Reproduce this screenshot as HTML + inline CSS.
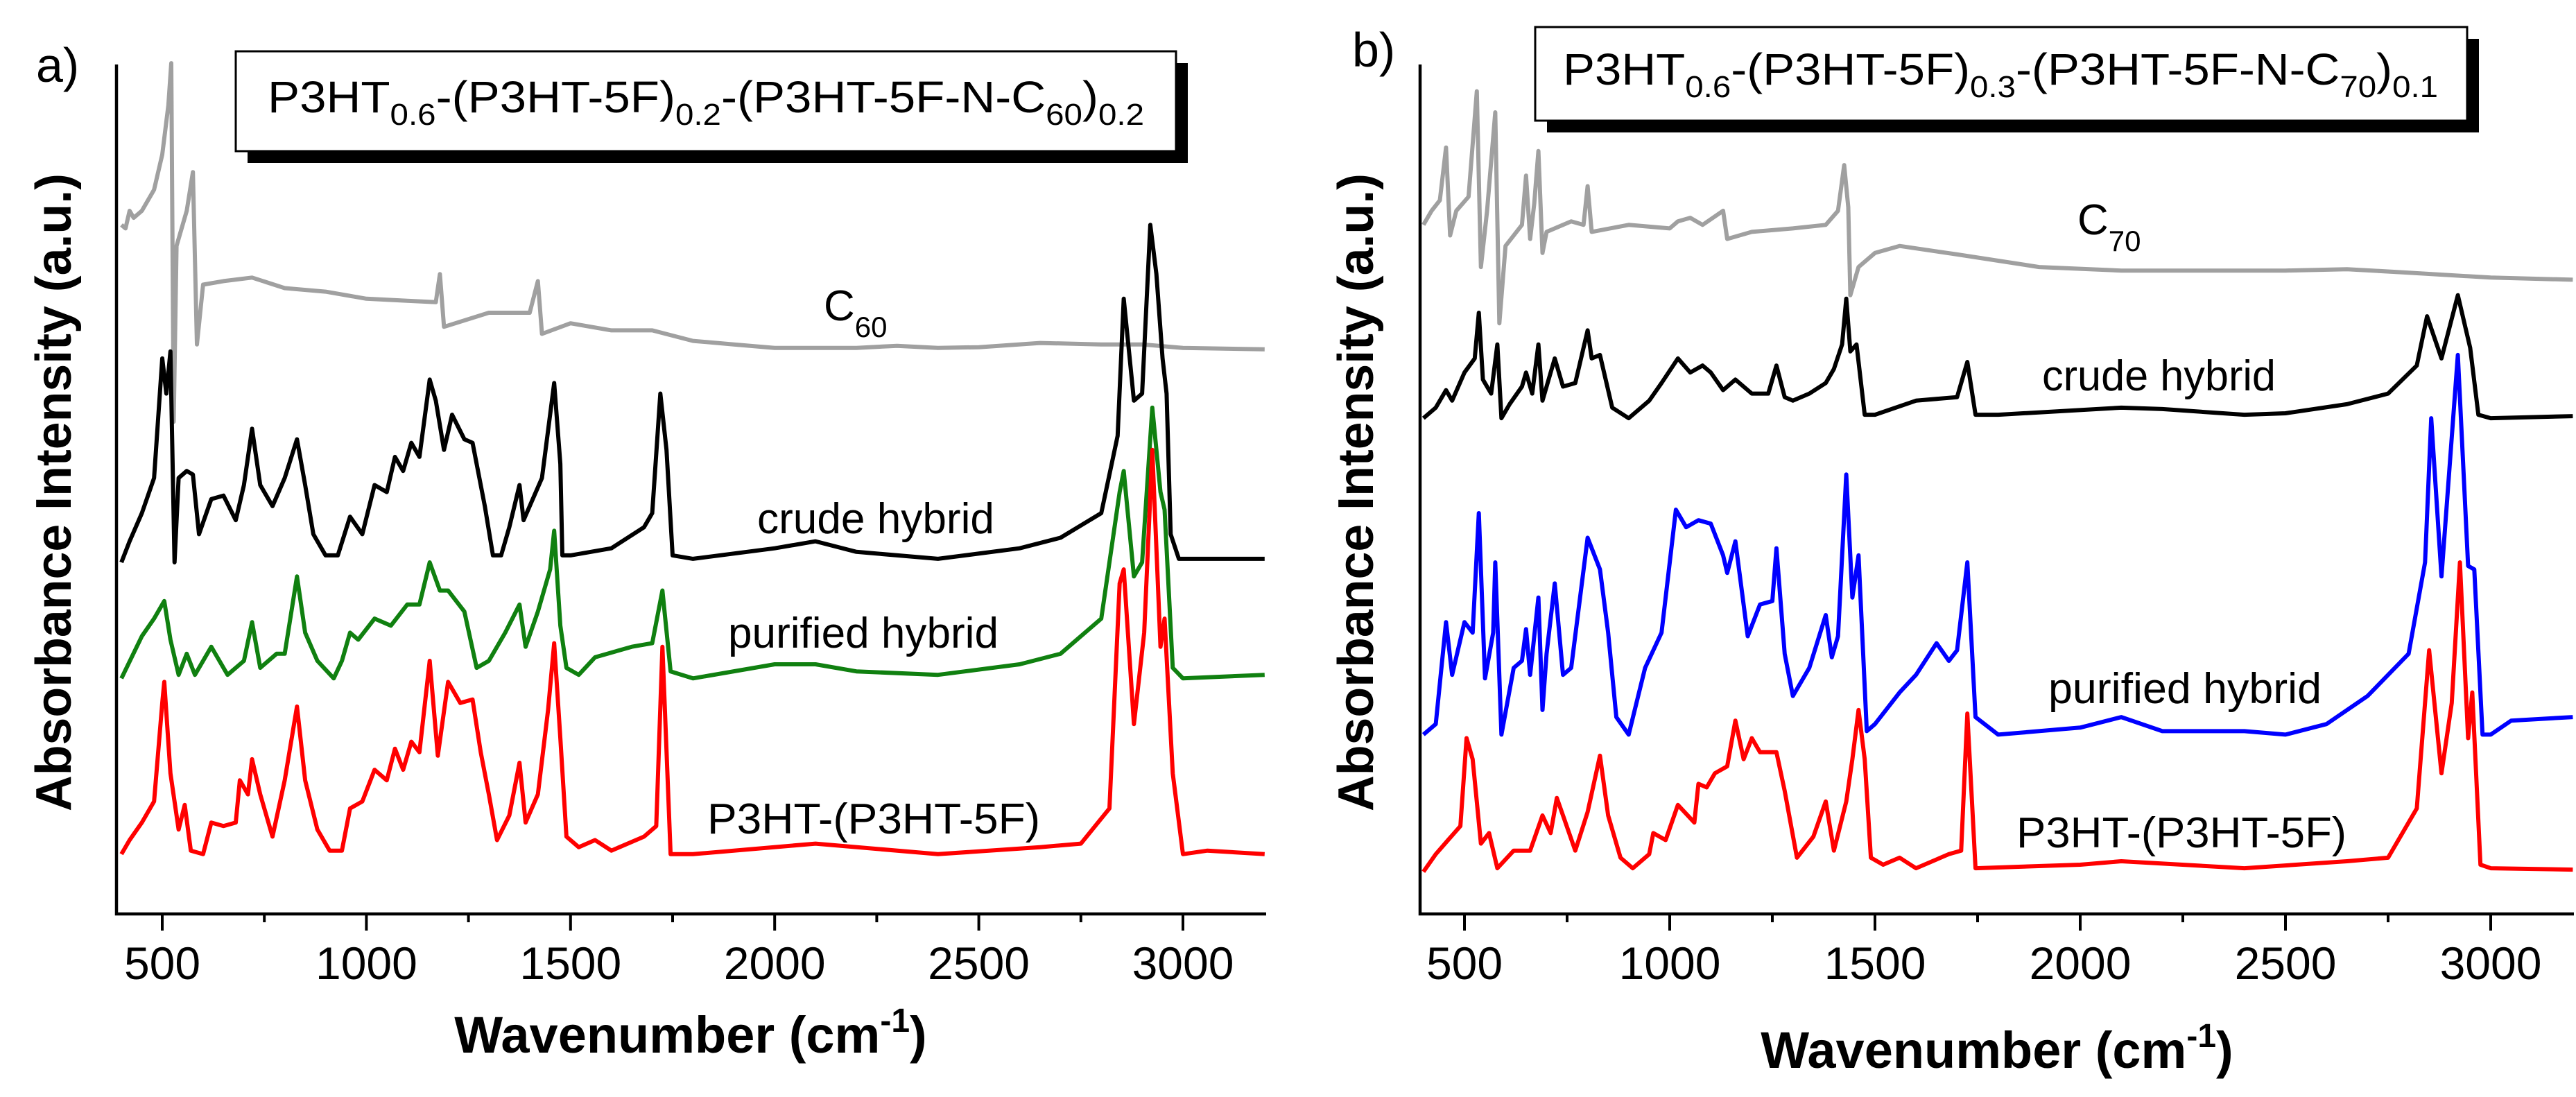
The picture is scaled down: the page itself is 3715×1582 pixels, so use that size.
<!DOCTYPE html>
<html><head><meta charset="utf-8"><style>
html,body{margin:0;padding:0;background:#fff;}
svg{display:block;font-family:"Liberation Sans",Arial,sans-serif;}
</style></head><body>
<svg id="chart" width="3715" height="1582" viewBox="0 0 3715 1582" xmlns="http://www.w3.org/2000/svg">
<rect width="3715" height="1582" fill="#fff"/>
</svg>
<script>
// ---- data (wavenumber, absorbance a.u.) ----
const ticksMajor = [500, 1000, 1500, 2000, 2500, 3000];
const ticksMinor = [750, 1250, 1750, 2250, 2750];
const tickLabels = ["500", "1000", "1500", "2000", "2500", "3000"];

const aC60 = [[400,980],[410,975],[420,1000],[430,990],[450,1000],[480,1030],[500,1080],[515,1150],[522,1210],[528,700],[535,950],[560,1000],[575,1055],[585,810],[600,895],[650,900],[720,905],[800,890],[900,885],[1000,875],[1100,872],[1170,870],[1180,910],[1190,835],[1300,855],[1400,855],[1420,900],[1430,825],[1500,840],[1550,835],[1600,830],[1700,830],[1800,815],[1900,810],[2000,805],[2100,805],[2200,805],[2300,808],[2400,805],[2500,806],[2650,812],[2800,810],[2900,810],[3000,805],[3200,803]];
const aCrude = [[400,500],[420,530],[450,570],[480,620],[500,790],[510,740],[520,800],[530,500],[540,620],[560,630],[575,625],[590,540],[620,590],[650,595],[680,560],[700,610],[720,690],[740,610],[770,580],[800,620],[830,675],[850,610],[870,540],[900,510],[930,510],[960,565],[990,540],[1020,610],[1050,600],[1070,650],[1090,630],[1110,670],[1130,650],[1155,760],[1170,730],[1190,660],[1210,710],[1240,675],[1260,670],[1290,580],[1310,510],[1330,510],[1350,550],[1375,610],[1385,560],[1400,580],[1430,620],[1460,755],[1475,640],[1480,510],[1500,510],[1600,520],[1680,550],[1700,570],[1720,740],[1735,660],[1750,510],[1800,505],[2000,520],[2100,530],[2200,515],[2400,505],[2600,520],[2700,535],[2800,570],[2840,680],[2855,875],[2880,730],[2900,740],[2920,980],[2935,910],[2950,790],[2960,740],[2970,540],[2990,505],[3200,505]];
const aPurified = [[400,335],[450,395],[480,420],[505,445],[520,390],[540,340],[560,370],[580,340],[620,380],[660,340],[700,360],[720,415],[740,350],[780,370],[800,370],[830,480],[850,400],[880,360],[920,335],[940,360],[960,400],[980,390],[1020,420],[1060,410],[1100,440],[1130,440],[1155,500],[1180,460],[1200,460],[1240,430],[1270,350],[1300,360],[1340,400],[1375,440],[1390,380],[1420,430],[1450,490],[1460,545],[1475,410],[1490,350],[1520,340],[1560,365],[1650,380],[1700,385],[1725,460],[1745,345],[1800,335],[2000,355],[2100,355],[2200,345],[2400,340],[2600,355],[2700,370],[2800,420],[2845,600],[2855,630],[2880,480],[2900,500],[2925,720],[2945,600],[2955,575],[2975,350],[3000,335],[3200,340]];
const aRef = [[400,85],[420,105],[450,130],[480,160],[500,300],[505,330],[520,200],[540,120],[555,155],[570,90],[600,85],[620,130],[650,125],[680,130],[690,190],[710,170],[720,220],[740,170],[770,110],[800,190],[830,295],[850,190],[880,120],[910,90],[940,90],[960,150],[990,160],[1020,205],[1050,190],[1070,235],[1090,205],[1110,245],[1130,230],[1155,360],[1175,225],[1200,330],[1230,300],[1260,305],[1280,230],[1300,170],[1320,105],[1350,140],[1375,215],[1390,130],[1420,170],[1445,290],[1460,385],[1475,250],[1490,110],[1520,95],[1560,105],[1600,90],[1680,110],[1710,125],[1725,380],[1745,85],[1800,85],[2100,100],[2400,85],[2650,95],[2750,100],[2820,150],[2845,470],[2855,490],[2880,270],[2905,400],[2925,660],[2945,380],[2955,420],[2975,200],[3000,85],[3060,90],[3200,85]];

const bC70 = [[400,980],[420,1000],[440,1015],[455,1090],[465,965],[480,1000],[510,1020],[530,1170],[540,920],[555,1000],[575,1140],[585,840],[600,950],[640,980],[650,1050],[660,960],[670,1010],[680,1085],[690,940],[700,970],[760,985],[790,980],[800,1035],[810,970],[900,980],[1000,975],[1020,985],[1050,990],[1080,980],[1130,1000],[1140,960],[1200,970],[1300,975],[1380,980],[1410,1000],[1425,1065],[1435,1005],[1440,880],[1460,920],[1500,940],[1560,950],[1700,938],[1900,920],[2100,915],[2300,915],[2500,915],[2650,917],[2800,912],[3000,905],[3200,902]];
const bCrude = [[400,705],[430,720],[455,745],[470,730],[500,770],[525,790],[535,855],[545,760],[565,740],[580,810],[590,705],[610,725],[640,750],[650,770],[665,740],[680,810],[690,730],[720,790],[740,750],[770,755],[800,830],[810,790],[830,795],[860,720],[900,705],[950,730],[980,755],[1020,790],[1050,770],[1080,780],[1100,770],[1130,745],[1160,760],[1200,740],[1240,740],[1260,780],[1280,735],[1300,730],[1340,740],[1380,755],[1400,775],[1420,810],[1430,875],[1440,800],[1455,810],[1475,710],[1500,710],[1600,730],[1700,735],[1725,785],[1745,710],[1800,710],[2100,720],[2200,718],[2400,710],[2500,712],[2650,725],[2750,740],[2820,780],[2845,850],[2880,790],[2920,880],[2950,805],[2970,710],[3000,705],[3200,708]];
const bPurified = [[400,255],[430,270],[455,415],[470,340],[500,415],[520,400],[535,570],[550,335],[570,400],[575,500],[590,255],[620,350],[640,360],[650,405],[660,340],[680,450],[690,290],[700,370],[720,470],[740,340],[760,350],[800,535],[830,490],[850,400],[870,280],[900,255],[940,350],[980,400],[1015,575],[1040,550],[1070,560],[1100,555],[1130,510],[1140,485],[1160,530],[1190,395],[1220,440],[1250,445],[1260,520],[1280,370],[1300,310],[1340,350],[1380,425],[1395,365],[1410,395],[1430,625],[1445,450],[1460,510],[1480,260],[1500,270],[1560,315],[1600,340],[1650,385],[1680,360],[1700,375],[1725,500],[1745,280],[1800,255],[2000,265],[2100,280],[2200,260],[2400,260],[2500,255],[2600,270],[2700,310],[2800,370],[2840,500],[2855,705],[2880,480],[2920,795],[2945,495],[2960,490],[2980,255],[3000,255],[3050,275],[3200,280]];
const bRef = [[400,60],[430,85],[460,105],[490,125],[505,250],[520,220],[540,100],[560,115],[580,65],[620,90],[660,90],[690,140],[710,115],[725,165],[740,140],[770,90],[800,145],[830,225],[850,140],[880,80],[910,65],[950,85],[960,115],[990,105],[1020,155],[1060,130],[1070,185],[1090,180],[1110,200],[1140,210],[1160,275],[1180,220],[1200,250],[1220,230],[1260,230],[1280,175],[1310,80],[1350,110],[1380,160],[1400,90],[1430,160],[1445,220],[1460,290],[1475,220],[1490,80],[1520,70],[1560,80],[1600,65],[1680,85],[1710,90],[1725,285],[1745,65],[2000,70],[2100,75],[2400,65],[2650,75],[2750,80],[2820,150],[2850,375],[2880,200],[2905,300],[2925,500],[2945,250],[2955,315],[2975,70],[3000,65],[3200,63]];

const NS = "http://www.w3.org/2000/svg";
const svg = document.getElementById("chart");
function mk(tag, attrs, parent) {
  const e = document.createElementNS(NS, tag);
  for (const k in attrs) e.setAttribute(k, attrs[k]);
  (parent || svg).appendChild(e);
  return e;
}

const panels = [
  { id: "a", axLeft: 168, x500: 234, x3000: 1706, xEnd: 1826, bottom: 1318, top: 93,
    letter: [52, 118], box: [340, 74, 1356, 144], titleX: 386, titleW: 1264, titleY: 162,
    sub: ["0.6", "0.2", "60", "0.2"], yTitleX: 78, xTitleX: 996, xTitleY: 1518,
    series: [
      { d: aC60, color: "#a0a0a0", name: "c60-spectrum" },
      { d: aCrude, color: "#000000", name: "crude-hybrid-spectrum" },
      { d: aPurified, color: "#108010", name: "purified-hybrid-spectrum" },
      { d: aRef, color: "#ff0000", name: "p3ht-reference-spectrum" }],
    labels: [
      { t: "C", sub: "60", x: 1188, y: 462, name: "c60-label" },
      { t: "crude hybrid", x: 1092, y: 769, w: 342, name: "crude-hybrid-label" },
      { t: "purified hybrid", x: 1050, y: 934, w: 390, name: "purified-hybrid-label" },
      { t: "P3HT-(P3HT-5F)", x: 1020, y: 1202, w: 480, name: "p3ht-reference-label" }] },
  { id: "b", axLeft: 2048, x500: 2112, x3000: 3592, xEnd: 3712, bottom: 1318, top: 93,
    letter: [1950, 96], box: [2214, 39, 1344, 135], titleX: 2254, titleW: 1262, titleY: 122,
    sub: ["0.6", "0.3", "70", "0.1"], yTitleX: 1956, xTitleX: 2880, xTitleY: 1540,
    series: [
      { d: bC70, color: "#a0a0a0", name: "c70-spectrum" },
      { d: bCrude, color: "#000000", name: "crude-hybrid-spectrum" },
      { d: bPurified, color: "#0000ff", name: "purified-hybrid-spectrum" },
      { d: bRef, color: "#ff0000", name: "p3ht-reference-spectrum" }],
    labels: [
      { t: "C", sub: "70", x: 2996, y: 338, name: "c70-label" },
      { t: "crude hybrid", x: 2945, y: 563, w: 337, name: "crude-hybrid-label" },
      { t: "purified hybrid", x: 2954, y: 1014, w: 394, name: "purified-hybrid-label" },
      { t: "P3HT-(P3HT-5F)", x: 2908, y: 1222, w: 476, name: "p3ht-reference-label" }] }
];

panels.forEach(p => {
  const g = mk("g", {});
  
  
  const k = (p.x3000 - p.x500) / 2500;
  const xs = v => p.x500 + (v - 500) * k;
  const ys = v => p.bottom - v * 1.014;

  p.series.forEach(s => {
    const pts = s.d.map(q => xs(q[0]).toFixed(1) + "," + ys(q[1]).toFixed(1)).join(" ");
    const pl = mk("polyline", { points: pts, fill: "none", stroke: s.color, "stroke-width": 6, "stroke-linejoin": "round" }, g);
    
    
  });

  const ax = mk("path", { d: `M${p.axLeft},${p.top} V${p.bottom} H${p.xEnd}`, fill: "none", stroke: "#000", "stroke-width": 4.5 }, g);
  
  
  ticksMajor.forEach((v, i) => {
    const t = mk("line", { x1: xs(v), x2: xs(v), y1: p.bottom, y2: p.bottom + 24, stroke: "#000", "stroke-width": 4 }, g);
    
    
    const lb = mk("text", { x: xs(v), y: p.bottom + 94, "text-anchor": "middle", "font-size": 66 }, g);
    lb.textContent = tickLabels[i];
    
    
  });
  ticksMinor.forEach(v => {
    const t = mk("line", { x1: xs(v), x2: xs(v), y1: p.bottom, y2: p.bottom + 12, stroke: "#000", "stroke-width": 4 }, g);
    
    
  });

  const xt = mk("text", { x: p.xTitleX, y: p.xTitleY, "text-anchor": "middle", "font-size": 74, "font-weight": "bold" }, g);
  xt.innerHTML = 'Wavenumber (cm<tspan dy="-30" font-size="48">-1</tspan><tspan dy="30">)</tspan>';
  
  
  const yt = mk("text", { x: 0, y: 0, "text-anchor": "middle", "font-size": 72, "font-weight": "bold", "dominant-baseline": "central",
    transform: `translate(${p.yTitleX},710) rotate(-90)`, textLength: 920, lengthAdjust: "spacingAndGlyphs" }, g);
  yt.textContent = "Absorbance Intensity (a.u.)";
  
  

  const lt = mk("text", { x: p.letter[0], y: p.letter[1], "font-size": 70 }, g);
  lt.textContent = p.id + ")";
  
  

  const [bx, by, bw, bh] = p.box;
  const sh = mk("rect", { x: bx + 17, y: by + 17, width: bw, height: bh, fill: "#000" }, g);
  
  
  const br = mk("rect", { x: bx, y: by, width: bw, height: bh, fill: "#fff", stroke: "#000", "stroke-width": 3 }, g);
  
  
  const tt = mk("text", { x: p.titleX, y: p.titleY, "font-size": 64, textLength: p.titleW, lengthAdjust: "spacingAndGlyphs" }, g);
  const s = p.sub;
  tt.innerHTML = `P3HT<tspan dy="18" font-size="44">${s[0]}</tspan><tspan dy="-18">-(P3HT-5F)</tspan><tspan dy="18" font-size="44">${s[1]}</tspan><tspan dy="-18">-(P3HT-5F-N-C</tspan><tspan dy="18" font-size="44">${s[2]}</tspan><tspan dy="-18">)</tspan><tspan dy="18" font-size="44">${s[3]}</tspan>`;
  
  

  p.labels.forEach(l => {
    const attrs = { x: l.x, y: l.y, "font-size": 62 };
    if (l.w) { attrs.textLength = l.w; attrs.lengthAdjust = "spacingAndGlyphs"; }
    const e = mk("text", attrs, g);
    if (l.sub) e.innerHTML = `${l.t}<tspan dy="24" font-size="42">${l.sub}</tspan>`;
    else e.textContent = l.t;
    
    
  });
});
</script>
</body></html>
